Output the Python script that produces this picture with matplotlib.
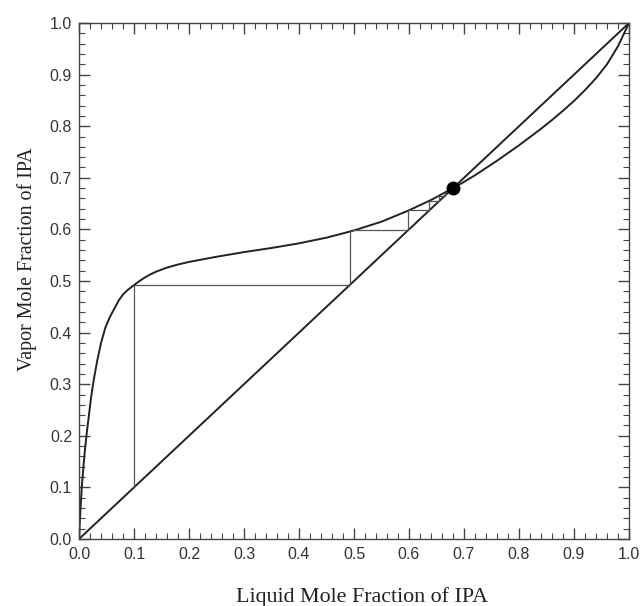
import matplotlib.pyplot as plt
from matplotlib.ticker import MultipleLocator

# equilibrium curve for IPA / water
x_eq = [0.000, 0.002, 0.005, 0.008, 0.011, 0.014, 0.018, 0.022, 0.027, 0.033,
        0.040, 0.048, 0.056, 0.064, 0.072, 0.080, 0.090, 0.100, 0.110, 0.120,
        0.130, 0.140, 0.160, 0.180, 0.200, 0.250, 0.300, 0.350, 0.400, 0.450,
        0.500, 0.550, 0.600, 0.640, 0.680, 0.700, 0.720, 0.740, 0.760, 0.780,
        0.800, 0.820, 0.840, 0.860, 0.880, 0.900, 0.920, 0.940, 0.960, 0.980, 1.000]
y_eq = [0.000, 0.045, 0.100, 0.140, 0.175, 0.205, 0.240, 0.275, 0.310, 0.345,
        0.380, 0.410, 0.430, 0.446, 0.462, 0.474, 0.484, 0.492, 0.500, 0.507,
        0.513, 0.518, 0.526, 0.532, 0.537, 0.547, 0.556, 0.564, 0.573, 0.584,
        0.598, 0.615, 0.637, 0.657, 0.680, 0.692, 0.705, 0.719, 0.733, 0.748,
        0.763, 0.779, 0.795, 0.812, 0.830, 0.849, 0.870, 0.893, 0.920, 0.955, 1.000]

# stage stepping from x = 0.1
step_x = [0.100, 0.100, 0.492, 0.492, 0.598, 0.598, 0.637, 0.637, 0.655, 0.655, 0.665, 0.665]
step_y = [0.100, 0.492, 0.492, 0.598, 0.598, 0.637, 0.637, 0.655, 0.655, 0.665, 0.665, 0.671]

# azeotrope
azeo_x = [0.68]
azeo_y = [0.68]

diag = [0.0, 1.0]

fig = plt.figure(figsize=(6.43, 6.06), dpi=100)
ax = fig.add_axes([0.1229, 0.1106, 0.8553, 0.8514])

ax.plot(diag, diag, color='#222222', linewidth=1.4)
ax.plot(x_eq, y_eq, color='#222222', linewidth=1.4)
ax.plot(step_x, step_y, color='#555555', linewidth=0.9)
ax.plot(azeo_x, azeo_y, 'o', color='black', markersize=9)

ax.set_xlim(0, 1)
ax.set_ylim(0, 1)
ax.xaxis.set_major_locator(MultipleLocator(0.1))
ax.yaxis.set_major_locator(MultipleLocator(0.1))
ax.xaxis.set_minor_locator(MultipleLocator(0.02))
ax.yaxis.set_minor_locator(MultipleLocator(0.02))
ax.tick_params(which='both', direction='in', top=True, right=True, color='#444444')
ax.tick_params(which='major', length=8, width=1, labelsize=11.5, labelcolor='#333333')
ax.tick_params(axis='x', which='major', pad=6)
ax.tick_params(axis='y', which='major', pad=5)
ax.tick_params(which='minor', length=4, width=0.8)
for lab in ax.get_xticklabels() + ax.get_yticklabels():
    lab.set_family('Liberation Sans')
for sp in ax.spines.values():
    sp.set_color('#444444')
    sp.set_linewidth(1)

ax.set_xlabel('Liquid Mole Fraction of IPA', family='Liberation Serif', fontsize=15.8, color='#222222')
ax.set_ylabel('Vapor Mole Fraction of IPA', family='Liberation Serif', fontsize=14.4, color='#222222')
ax.xaxis.set_label_coords(0.515, -0.093)
ax.yaxis.set_label_coords(-0.077, 0.543)

fig.savefig('out.png', dpi=100)
